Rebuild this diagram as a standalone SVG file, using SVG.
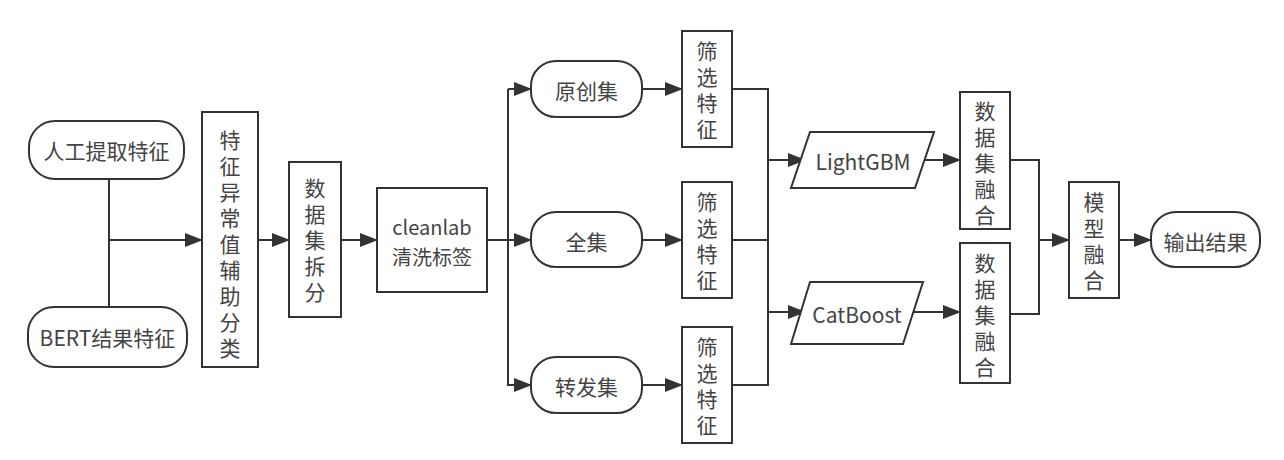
<svg xmlns="http://www.w3.org/2000/svg" width="1284" height="460" viewBox="0 0 1284 460">
<style>
.s{fill:#fff;stroke:#333;stroke-width:2}
.t{font-family:"Noto Sans CJK SC","Noto Sans",sans-serif;font-size:21px;fill:#444;text-anchor:middle;dominant-baseline:central}
.v{font-family:"Noto Sans CJK SC","Noto Sans",sans-serif;font-size:21px;fill:#444;text-anchor:middle;writing-mode:vertical-rl;letter-spacing:5px}
.c{fill:none;stroke:#333;stroke-width:2}
</style>
<defs>
<marker id="a" markerWidth="18" markerHeight="14" refX="17" refY="7" orient="auto" markerUnits="userSpaceOnUse">
<path d="M0,0 L18,7 L0,14 Z" fill="#333"/>
</marker>
</defs>
<rect width="1284" height="460" fill="#fff"/>
<g id="connectors">
<path class="c" d="M109,179 V307"/>
<path class="c" d="M109,240 H202" marker-end="url(#a)"/>
<path class="c" d="M258,240 H289" marker-end="url(#a)"/>
<path class="c" d="M341,240 H377" marker-end="url(#a)"/>
<path class="c" d="M487,240 H508 V89"/>
<path class="c" d="M508,89 H531" marker-end="url(#a)"/>
<path class="c" d="M508,240 H531" marker-end="url(#a)"/>
<path class="c" d="M508,240 V385 H531" marker-end="url(#a)"/>
<path class="c" d="M642,89 H682" marker-end="url(#a)"/>
<path class="c" d="M642,240 H682" marker-end="url(#a)"/>
<path class="c" d="M642,385 H682" marker-end="url(#a)"/>
<path class="c" d="M732,89 H768 V385 H732 M732,240 H768"/>
<path class="c" d="M768,160 H805" marker-end="url(#a)"/>
<path class="c" d="M768,312 H805" marker-end="url(#a)"/>
<path class="c" d="M923,160 H960" marker-end="url(#a)"/>
<path class="c" d="M913,312 H960" marker-end="url(#a)"/>
<path class="c" d="M1010,160 H1039 V314 H1010"/>
<path class="c" d="M1039,240 H1069" marker-end="url(#a)"/>
<path class="c" d="M1119,240 H1151" marker-end="url(#a)"/>
</g>
<g id="n1"><rect class="s" x="29" y="121" width="155" height="58" rx="26"/><text class="t" x="106.5" y="150">人工提取特征</text></g>
<g id="n2"><rect class="s" x="28" y="307" width="159" height="60" rx="26"/><text class="t" x="107.5" y="337">BERT结果特征</text></g>
<g id="n3"><rect class="s" x="202" y="112" width="56" height="255"/><text class="v" x="230" y="246.5">特征异常值辅助分类</text></g>
<g id="n4"><rect class="s" x="289" y="162" width="52" height="155"/><text class="v" x="315" y="242.5">数据集拆分</text></g>
<g id="n5"><rect class="s" x="377" y="188" width="110" height="104"/><text class="t" x="432" y="226" style="font-size:20px">cleanlab</text><text class="t" x="432" y="256" style="font-size:20px">清洗标签</text></g>
<g id="n6"><rect class="s" x="531" y="61" width="111" height="56" rx="25"/><text class="t" x="586.5" y="90">原创集</text></g>
<g id="n7"><rect class="s" x="531" y="212" width="111" height="55" rx="25"/><text class="t" x="586.5" y="241">全集</text></g>
<g id="n8"><rect class="s" x="531" y="357" width="111" height="56" rx="25"/><text class="t" x="586.5" y="386">转发集</text></g>
<g id="n9"><rect class="s" x="682" y="31" width="50" height="116"/><text class="v" x="707" y="92.5">筛选特征</text></g>
<g id="n10"><rect class="s" x="682" y="182" width="50" height="116"/><text class="v" x="707" y="243.5">筛选特征</text></g>
<g id="n11"><rect class="s" x="682" y="327" width="50" height="116"/><text class="v" x="707" y="388.5">筛选特征</text></g>
<g id="n12"><polygon class="s" points="810,132 934,132 915,188 791,188"/><text class="t" x="863" y="161">LightGBM</text></g>
<g id="n13"><polygon class="s" points="810,282 923,282 903,344 791,344"/><text class="t" x="857" y="314">CatBoost</text></g>
<g id="n14"><rect class="s" x="960" y="92" width="50" height="137"/><text class="v" x="985" y="165.5">数据集融合</text></g>
<g id="n15"><rect class="s" x="960" y="243" width="50" height="140"/><text class="v" x="985" y="317.5">数据集融合</text></g>
<g id="n16"><rect class="s" x="1069" y="182" width="50" height="116"/><text class="v" x="1094" y="243.5">模型融合</text></g>
<g id="n17"><rect class="s" x="1151" y="212" width="109" height="55" rx="25"/><text class="t" x="1205.5" y="241">输出结果</text></g>
</svg>
